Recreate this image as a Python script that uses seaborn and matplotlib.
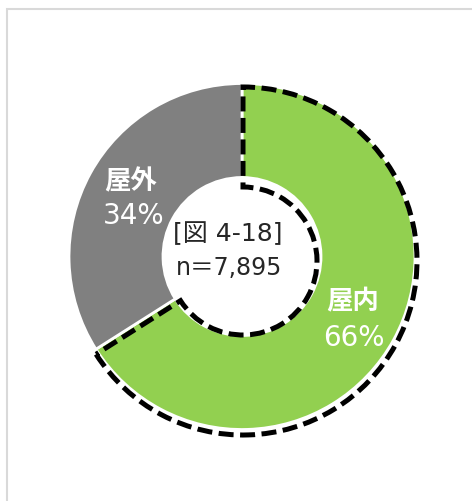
import numpy as np
import seaborn as sns
import matplotlib.pyplot as plt
from matplotlib.patches import Wedge, Rectangle

sns.set_theme(style="white")
plt.rcParams["font.family"] = ["DejaVu Sans", "Noto Sans CJK JP"]

# data
labels = ["屋内", "屋外"]
shares = [66, 34]
colors = ["#92D050", "#808080"]
title_text = "[図 4-18]"
n_text = "n＝7,895"

W, H = 472, 502
fig = plt.figure(figsize=(W / 100, H / 100), dpi=100)
ax = fig.add_axes([0, 0, 1, 1])

# pixel helpers (y measured from top of picture)
def py(y):
    return H - y

cx, cy = 242, 257.5
r_out, r_in = 173, 79

wedges, _ = ax.pie(
    shares,
    colors=colors,
    startangle=90,
    counterclock=False,
    center=(cx, py(cy)),
    radius=r_out,
    wedgeprops=dict(width=r_out - r_in, edgecolor="white", linewidth=2),
)

# dashed highlight around the first slice
w0 = wedges[0]
outline = Wedge(
    (243, py(262)), 174, w0.theta1, w0.theta2, width=174 - 74,
    fill=False, edgecolor="black", linewidth=3.6,
    linestyle=(0, (3, 1.3)), joinstyle="miter", capstyle="butt",
)
ax.add_patch(outline)

# slice labels
cjk = ["Noto Sans CJK JP", "DejaVu Sans"]
ax.text(131, py(182), labels[1], color="white", fontsize=19, fontweight="bold",
        ha="center", va="center", family=cjk)
ax.text(134, py(216), f"{shares[1]}%", color="white", fontsize=20,
        ha="center", va="center")
ax.text(353, py(302), labels[0], color="white", fontsize=19, fontweight="bold",
        ha="center", va="center", family=cjk)
ax.text(354, py(338), f"{shares[0]}%", color="white", fontsize=20,
        ha="center", va="center")

# centre texts
ax.text(228, py(234), title_text, color="#262626", fontsize=18,
        ha="center", va="center")
ax.text(229, py(268), n_text, color="#262626", fontsize=17,
        ha="center", va="center")

# outer frame (cropped on the right and bottom)
ax.add_patch(Rectangle((6.5, py(9.5) - 600), 600, 600, fill=False,
                       edgecolor="#D9D9D9", linewidth=1.5))

ax.set_xlim(0, W)
ax.set_ylim(0, H)
ax.set_aspect("equal")
ax.axis("off")

fig.savefig("out.png", dpi=100)
